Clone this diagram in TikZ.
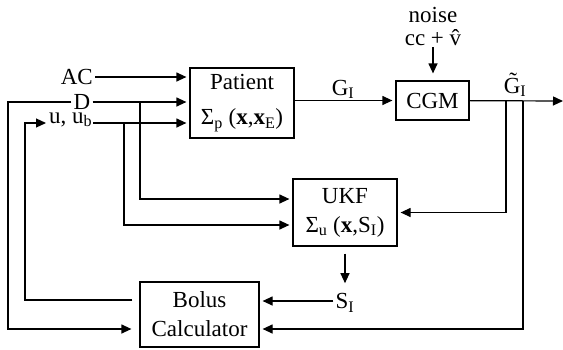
\documentclass[tikz,border=0pt]{standalone}
\usepackage{fontspec}
\setmainfont{Liberation Serif}
\usetikzlibrary{arrows.meta}

\begin{document}
\begin{tikzpicture}[x=1pt, y=-1pt,
    font=\fontsize{23}{29}\selectfont,
    block/.style={draw=black, line width=1.2pt, align=center, inner sep=0pt},
    sig/.style={inner sep=2pt, text depth=0pt},
    arr/.style={-{Triangle[length=10pt,width=9pt]}, line width=1.2pt,
                shorten >=3pt},
    wire/.style={line width=1.2pt},
]
\useasboundingbox (0,0) rectangle (563,349);

% Blocks
\node[block, minimum width=104pt, minimum height=70pt] (patient) at (242,103)
    {Patient\\[6pt]Σ\textsubscript{p} (\textbf{x},\textbf{x}\textsubscript{E})};
\node[block, minimum width=73pt, minimum height=39pt] (cgm) at (432.5,100.5) {CGM};
\node[block, minimum width=104pt, minimum height=67pt] (ukf) at (345,212.5)
    {UKF\\Σ\textsubscript{u} (\textbf{x},S\textsubscript{I})};
\node[block, minimum width=119pt, minimum height=65pt] (bolus) at (199.5,314.5)
    {Bolus\\Calculator};

% Inputs
\node[sig, anchor=east] (ac) at (95,77) {AC};
\node[sig] (d) at (82,102) {D};
\node[sig, inner sep=1pt, text height=10pt, anchor=base west] (u) at (48,123)
    {u, u\textsubscript{b}};
\node[inner sep=1pt, align=center, anchor=south] (noise) at (433,47)
    {noise\\[-6pt]cc + \^{v}};

% Signal labels
\node[sig, anchor=base] (gi) at (343,95) {G\textsubscript{I}};
\node[sig, anchor=base] (gt) at (515,93) {\~{G}\textsubscript{I}};
\node[sig] (si) at (345,301) {S\textsubscript{I}};

% Branch points and corners
\coordinate (out) at (563,101);
\coordinate (tapA) at (506,101);
\coordinate (tapB) at (523,101);
\coordinate (tapD) at (140,102);
\coordinate (tapU) at (124,123);
\coordinate (cornerD) at (8,102);
\coordinate (cornerU) at (25,123);

% Forward path
\draw[arr] (ac) -- (ac -| patient.west);
\draw[arr] (d) -- (d -| patient.west);
\draw[arr] (u.base east) -- (u.base east -| patient.west);
\draw[arr] (patient.east |- cgm) -- (cgm.west);
\draw[arr, shorten >=7pt] (noise.south) -- (noise.south |- cgm.north);
\draw[arr, shorten >=0pt] (cgm) -- (out);

% Into the UKF
\draw[arr] (tapA) |- (ukf.east);
\draw[arr] (tapD) |- ([yshift=13.5pt]ukf.west);
\draw[arr] (tapU) |- ([yshift=-12.5pt]ukf.west);
\draw[arr, shorten <=7pt, shorten >=8pt] (ukf.south) -- (si.north);

% Bolus calculator
\draw[arr] (si) -- (bolus.east |- si);
\draw[arr] (tapB) |- ([yshift=-14.5pt]bolus.east);
\draw[arr, shorten >=8pt] (d.west) -- (cornerD) |- ([yshift=-14.5pt]bolus.west);
\draw[arr, shorten <=7pt, shorten >=2pt] ([yshift=14.5pt]bolus.west) -| (cornerU)
    -- (u.base west);

\end{tikzpicture}
\end{document}
